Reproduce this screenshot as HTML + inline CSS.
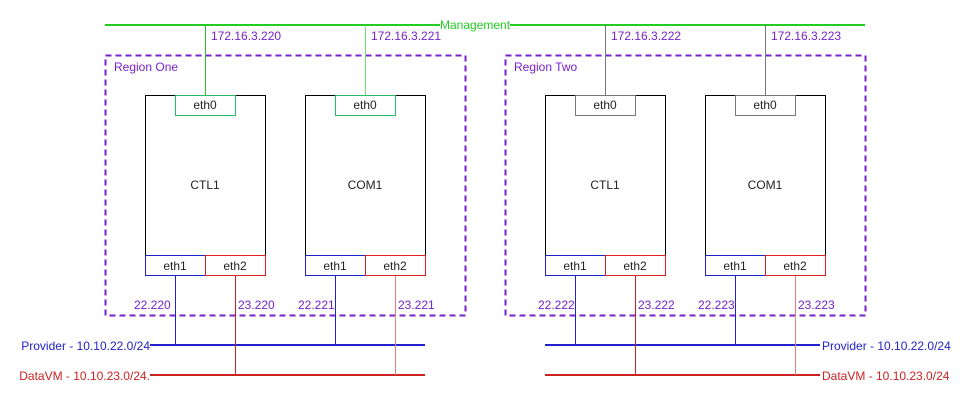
<!DOCTYPE html>
<html><head><style>body{margin:0;background:#fff}svg{display:block}text{font-family:"Liberation Sans",sans-serif;font-size:12px}</style></head><body>
<svg width="970" height="402" viewBox="0 0 970 402" xmlns="http://www.w3.org/2000/svg">
<line x1="105" y1="25" x2="440" y2="25" stroke="#22cc22" stroke-width="2"/>
<line x1="510" y1="25" x2="865" y2="25" stroke="#22cc22" stroke-width="2"/>
<text x="440" y="29" fill="#22cc22">Management</text>
<rect x="105.5" y="55.5" width="360" height="260" fill="none" stroke="#7722cc" stroke-width="2" stroke-dasharray="6,4"/>
<rect x="505.5" y="55.5" width="360" height="260" fill="none" stroke="#7722cc" stroke-width="2" stroke-dasharray="6,4"/>
<text x="114" y="71" fill="#7722cc">Region One</text>
<text x="514" y="71" fill="#7722cc">Region Two</text>
<g id="r1">
<line x1="205.5" y1="25" x2="205.5" y2="95" stroke="#33bb33"/>
<line x1="365.5" y1="25" x2="365.5" y2="95" stroke="#77dd77"/>
<text x="211" y="40" fill="#7722cc">172.16.3.220</text>
<text x="371" y="40" fill="#7722cc">172.16.3.221</text>
</g>
<line x1="605.5" y1="25" x2="605.5" y2="95" stroke="#777"/>
<line x1="765.5" y1="25" x2="765.5" y2="95" stroke="#777"/>
<text x="611" y="40" fill="#7722cc">172.16.3.222</text>
<text x="771" y="40" fill="#7722cc">172.16.3.223</text>
<!-- lines -->
<line x1="150" y1="345" x2="425" y2="345" stroke="#2222cc" stroke-width="2"/>
<line x1="150" y1="375" x2="425" y2="375" stroke="#cc2222" stroke-width="2"/>
<line x1="545" y1="345" x2="820" y2="345" stroke="#2222cc" stroke-width="2"/>
<line x1="545" y1="375" x2="820" y2="375" stroke="#cc2222" stroke-width="2"/>
<text x="150" y="350" fill="#2222cc" text-anchor="end">Provider - 10.10.22.0/24</text>
<text x="150" y="380" fill="#cc2222" text-anchor="end">DataVM - 10.10.23.0/24.</text>
<text x="822" y="350" fill="#2222cc">Provider - 10.10.22.0/24</text>
<text x="822" y="380" fill="#cc2222">DataVM - 10.10.23.0/24</text>
<g fill="none">
<line x1="175.5" y1="275" x2="175.5" y2="345" stroke="#2222cc"/>
<line x1="235.5" y1="275" x2="235.5" y2="375" stroke="#cc2222"/>
<line x1="335.5" y1="275" x2="335.5" y2="345" stroke="#2222cc"/>
<line x1="395.5" y1="275" x2="395.5" y2="375" stroke="#e88080"/>
<line x1="575.5" y1="275" x2="575.5" y2="345" stroke="#2222cc"/>
<line x1="635.5" y1="275" x2="635.5" y2="375" stroke="#cc2222"/>
<line x1="735.5" y1="275" x2="735.5" y2="345" stroke="#2222cc"/>
<line x1="795.5" y1="275" x2="795.5" y2="375" stroke="#e88080"/>
</g>
<g fill="#7722cc">
<text x="134" y="309">22.220</text><text x="238" y="309">23.220</text>
<text x="298" y="309">22.221</text><text x="398" y="309">23.221</text>
<text x="538" y="309">22.222</text><text x="638" y="309">23.222</text>
<text x="698" y="309">22.223</text><text x="798" y="309">23.223</text>
</g>
<g font-size="12">
<g transform="translate(145,95)"><rect x=".5" y=".5" width="120" height="180" fill="#fff" stroke="#000"/><rect x="30.5" y=".5" width="60" height="20" fill="#fff" stroke="#22bb66"/><text x="60" y="14" text-anchor="middle" fill="#222">eth0</text><text x="60" y="94" text-anchor="middle" fill="#222">CTL1</text><rect x=".5" y="160.5" width="60" height="20" fill="#fff" stroke="#2222cc"/><rect x="60.5" y="160.5" width="60" height="20" fill="#fff" stroke="#dd2222"/><text x="30" y="175" text-anchor="middle" fill="#222">eth1</text><text x="90" y="175" text-anchor="middle" fill="#222">eth2</text></g>
<g transform="translate(305,95)"><rect x=".5" y=".5" width="120" height="180" fill="#fff" stroke="#000"/><rect x="30.5" y=".5" width="60" height="20" fill="#fff" stroke="#22bb66"/><text x="60" y="14" text-anchor="middle" fill="#222">eth0</text><text x="60" y="94" text-anchor="middle" fill="#222">COM1</text><rect x=".5" y="160.5" width="60" height="20" fill="#fff" stroke="#2222cc"/><rect x="60.5" y="160.5" width="60" height="20" fill="#fff" stroke="#dd2222"/><text x="30" y="175" text-anchor="middle" fill="#222">eth1</text><text x="90" y="175" text-anchor="middle" fill="#222">eth2</text></g>
<g transform="translate(545,95)"><rect x=".5" y=".5" width="120" height="180" fill="#fff" stroke="#000"/><rect x="30.5" y=".5" width="60" height="20" fill="#fff" stroke="#777"/><text x="60" y="14" text-anchor="middle" fill="#222">eth0</text><text x="60" y="94" text-anchor="middle" fill="#222">CTL1</text><rect x=".5" y="160.5" width="60" height="20" fill="#fff" stroke="#2222cc"/><rect x="60.5" y="160.5" width="60" height="20" fill="#fff" stroke="#dd2222"/><text x="30" y="175" text-anchor="middle" fill="#222">eth1</text><text x="90" y="175" text-anchor="middle" fill="#222">eth2</text></g>
<g transform="translate(705,95)"><rect x=".5" y=".5" width="120" height="180" fill="#fff" stroke="#000"/><rect x="30.5" y=".5" width="60" height="20" fill="#fff" stroke="#777"/><text x="60" y="14" text-anchor="middle" fill="#222">eth0</text><text x="60" y="94" text-anchor="middle" fill="#222">COM1</text><rect x=".5" y="160.5" width="60" height="20" fill="#fff" stroke="#2222cc"/><rect x="60.5" y="160.5" width="60" height="20" fill="#fff" stroke="#dd2222"/><text x="30" y="175" text-anchor="middle" fill="#222">eth1</text><text x="90" y="175" text-anchor="middle" fill="#222">eth2</text></g>
</g>
</svg>
</body></html>
